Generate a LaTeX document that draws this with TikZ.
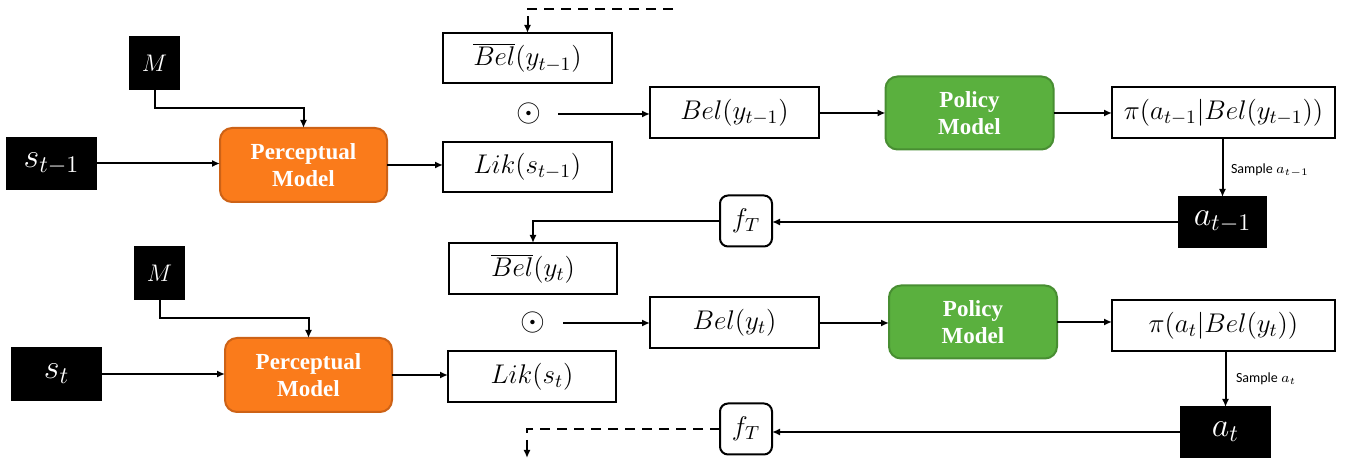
\RequirePackage{fix-cm}
\documentclass[tikz,border=0pt]{standalone}
\usepackage{fontspec}
\usetikzlibrary{arrows.meta}
\IfFontExistsTF{LiberationSerif-Bold.ttf}
  {\newfontfamily\boldserif{LiberationSerif-Bold.ttf}[BoldFont=LiberationSerif-Bold.ttf]}
  {\newfontfamily\boldserif{DejaVu Serif}}
\newfontfamily\labelfont{Carlito}
\definecolor{percfill}{RGB}{250,123,27}
\definecolor{percdraw}{RGB}{205,98,22}
\definecolor{polfill}{RGB}{90,176,62}
\definecolor{poldraw}{RGB}{72,142,50}

\tikzset{
  every node/.style={inner sep=0pt, outer sep=0pt},
  darkbox/.style={draw=black, fill=black, text=white, line width=0.8pt},
  plainbox/.style={draw=black, fill=white, line width=1pt,
    font=\fontsize{13.5}{16}\selectfont},
  fbox/.style={plainbox, rounded corners=4pt, minimum width=26pt, minimum height=25.5pt},
  model/.style={rounded corners=6pt, line width=1pt, text=white, align=center,
    font=\boldserif\bfseries\fontsize{11.5}{13.5}\selectfont},
  perc/.style={model, draw=percdraw, fill=percfill, minimum width=83.5pt, minimum height=37pt},
  pol/.style={model, draw=poldraw, fill=polfill, minimum width=84pt, minimum height=36.5pt},
  arr/.style={-{Latex[length=4pt,width=3.5pt]}, line width=1pt},
  dasharr/.style={arr, dash pattern=on 5pt off 3.5pt},
  samplelbl/.style={anchor=west, font=\labelfont\fontsize{7}{8}\selectfont},
  bigmath/.style={font=\fontsize{17}{20}\selectfont},
}

\begin{document}
\begin{tikzpicture}[x=0.5pt, y=-0.5pt]
\useasboundingbox (0,0) rectangle (1345,464);

% ---------- step t-1 ----------
\node[darkbox, minimum width=24.5pt, minimum height=26pt, font=\fontsize{12}{14}\selectfont] (M1) at (154.5,63) {$M$};
\node[darkbox, bigmath, minimum width=44.5pt, minimum height=25.5pt] (s1) at (51.5,163.5) {$s_{t-1}$};
\node[perc] (P1) at (303.5,165) {Perceptual\\Model};

\node[plainbox, minimum width=84.5pt, minimum height=25pt] (Bb1) at (527.5,58) {$\overline{Bel}(y_{t-1})$};
\node[font=\fontsize{16}{18}\selectfont] (o1) at (529,114) {$\odot$};
\node[plainbox, minimum width=84.5pt, minimum height=25pt] (L1) at (527.5,167) {$Lik(s_{t-1})$};
\node[plainbox, minimum width=84.5pt, minimum height=25.5pt] (B1) at (734.5,113) {$Bel(y_{t-1})$};
\node[pol] (Pol1) at (969.5,113) {Policy\\Model};
\node[plainbox, minimum width=111.5pt, minimum height=25.5pt] (pi1) at (1223.5,113) {$\pi\bigl(a_{t-1}|Bel(y_{t-1})\bigr)$};
\node[darkbox, bigmath, minimum width=43.5pt, minimum height=25pt] (a1) at (1222.5,222) {$a_{t-1}$};
\node[samplelbl] (S1) at (1231,170) {Sample $a_{t-1}$};
\node[fbox] (f1) at (746,221) {$f_T$};

\coordinate (dtop) at (673,9);

\draw[arr] (M1.south) -- ++(0,19) -| (P1.north);
\draw[arr] (s1.east) -- (s1.east -| P1.west);
\draw[arr] (P1.east) -- (P1.east -| L1.west);
\draw[dasharr] (dtop) -| (Bb1.north);
\draw[arr, shorten <=14.5pt] (o1.center) -- (o1.center -| B1.west);
\draw[arr] (B1.east) -- (B1.east -| Pol1.west);
\draw[arr] (Pol1.east) -- (Pol1.east -| pi1.west);
\draw[arr] (a1.north |- pi1.south) -- (a1.north);
\draw[arr] (a1.west) -- (a1.west -| f1.east);

% ---------- step t ----------
\node[darkbox, minimum width=24.5pt, minimum height=26pt, font=\fontsize{12}{14}\selectfont] (M2) at (159.5,273) {$M$};
\node[darkbox, bigmath, minimum width=44.5pt, minimum height=26.5pt] (s2) at (56.5,374) {$s_t$};
\node[perc] (P2) at (308.5,375) {Perceptual\\Model};

\node[plainbox, minimum width=84pt, minimum height=25.5pt] (Bb2) at (533,268.5) {$\overline{Bel}(y_t)$};
\node[font=\fontsize{16}{18}\selectfont] (o2) at (533,323) {$\odot$};
\node[plainbox, minimum width=84pt, minimum height=25.5pt] (L2) at (532,376.5) {$Lik(s_t)$};
\node[plainbox, minimum width=84.5pt, minimum height=25.5pt] (B2) at (734.5,323) {$Bel(y_t)$};
\node[pol] (Pol2) at (973,322) {Policy\\Model};
\node[plainbox, minimum width=111.5pt, minimum height=25.5pt] (pi2) at (1223.5,325.5) {$\pi\bigl(a_t|Bel(y_t)\bigr)$};
\node[darkbox, bigmath, minimum width=44.5pt, minimum height=25pt] (a2) at (1225.5,432) {$a_t$};
\node[samplelbl] (S2) at (1236,379) {Sample $a_t$};
\node[fbox] (f2) at (746,429) {$f_T$};

\coordinate (dbot) at (527,458);

\draw[arr] (f1.west) -| (Bb2.north);
\draw[arr] (M2.south) -- ++(0,19) -| (P2.north);
\draw[arr] (s2.east) -- (s2.east -| P2.west);
\draw[arr] (P2.east) -- (P2.east -| L2.west);
\draw[arr, shorten <=15pt] (o2.center) -- (o2.center -| B2.west);
\draw[arr] (B2.east) -- (B2.east -| Pol2.west);
\draw[arr] (Pol2.east) -- (Pol2.east -| pi2.west);
\draw[arr] (a2.north |- pi2.south) -- (a2.north);
\draw[arr] (a2.west) -- (a2.west -| f2.east);
\draw[dasharr] (f2.west) -| (dbot);
\end{tikzpicture}
\end{document}
